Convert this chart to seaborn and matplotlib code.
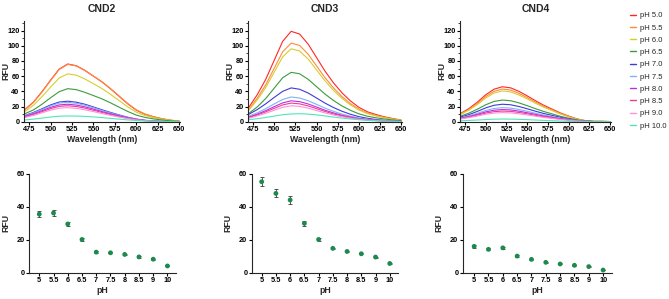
import numpy as np
import pandas as pd
import matplotlib
matplotlib.use("Agg")
import matplotlib.pyplot as plt
from matplotlib.lines import Line2D
import seaborn as sns

## data
wavelengths = [470, 480, 490, 500, 510, 520, 530, 540, 550, 560,
               570, 580, 590, 600, 610, 620, 630, 640, 650]
ph_names = ['pH 5.0', 'pH 5.5', 'pH 6.0', 'pH 6.5', 'pH 7.0',
            'pH 7.5', 'pH 8.0', 'pH 8.5', 'pH 9.0', 'pH 10.0']
ph_colors = ['#ff2626', '#ff8a3d', '#d6ce2e', '#3c9c3c', '#3c3cd8',
             '#7eb2f6', '#b82ee6', '#f23c8e', '#ff8fe0', '#4fe6bb']

cnd2_spectra = [
    [16, 25.8, 39.5, 54.7, 69.2, 76, 73.7, 67.6, 60, 52.4, 43.3, 33.4, 23.6, 15.2, 9.9, 6.5, 3.8, 1.9, 0.8],
    [15.5, 25.3, 39, 54.2, 68.7, 75.5, 73.4, 67.4, 60, 52.4, 43.5, 33.8, 24, 15.6, 10.2, 6.6, 4, 2, 0.8],
    [13.5, 21.5, 33, 45.5, 57.5, 63, 61.3, 56.3, 50, 43.6, 36, 27.8, 19.5, 12.6, 8.2, 5.4, 3.2, 1.6, 0.6],
    [10.5, 15.5, 23, 31.5, 39.5, 43.5, 42.2, 38.7, 34.4, 30, 24.8, 19.1, 13.5, 8.7, 5.7, 3.7, 2.2, 1.1, 0.4],
    [8.1, 12.2, 17, 22.1, 25.9, 27, 25.7, 23, 19.4, 15.7, 12.2, 8.9, 5.9, 3.5, 1.9, 0.9, 0.4, 0.1, 0],
    [7.7, 11.5, 16.1, 20.9, 24.5, 25.5, 24.2, 21.7, 18.4, 14.8, 11.5, 8.4, 5.6, 3.3, 1.8, 0.9, 0.4, 0.1, 0],
    [6.9, 10.4, 14.5, 18.9, 22.1, 23, 21.9, 19.6, 16.6, 13.3, 10.4, 7.6, 5.1, 3.0, 1.6, 0.8, 0.3, 0.1, 0],
    [6.3, 9.5, 13.2, 17.2, 20.2, 21, 20, 17.9, 15.1, 12.2, 9.5, 6.9, 4.6, 2.7, 1.5, 0.7, 0.3, 0.1, 0],
    [5.6, 8.3, 11.7, 15.2, 17.8, 18.5, 17.6, 15.7, 13.3, 10.7, 8.3, 6.1, 4.1, 2.4, 1.3, 0.6, 0.3, 0.1, 0],
    [2.3, 3.4, 4.7, 6.2, 7.2, 7.5, 7.4, 7.0, 6.3, 5.4, 4.4, 3.4, 2.4, 1.6, 1.0, 0.5, 0.2, 0.1, 0],
]
cnd3_spectra = [
    [19, 35.7, 55.9, 80.9, 105.9, 119, 115.4, 102.3, 84.5, 66.6, 51.2, 38.1, 27.4, 19, 13.1, 9.5, 6.5, 4.2, 2.1],
    [16.6, 31, 48.6, 70.4, 92.1, 103.5, 100.4, 89, 73.5, 58, 44.5, 33.1, 23.8, 16.6, 11.4, 8.3, 5.7, 3.6, 1.9],
    [15.4, 28.8, 45.1, 65.3, 85.4, 96, 93.1, 82.6, 68.2, 53.8, 41.3, 30.7, 22.1, 15.4, 10.6, 7.7, 5.3, 3.4, 1.7],
    [11, 19.5, 30.6, 44.2, 57.9, 65, 63.1, 55.9, 46.2, 36.4, 28, 20.8, 15, 10.4, 7.2, 5.2, 3.6, 2.3, 1.2],
    [9.8, 16, 23.6, 32, 40, 44.5, 42.7, 37.8, 31.2, 24.5, 18.7, 13.8, 9.8, 6.7, 4.5, 2.9, 1.8, 1, 0.4],
    [7.2, 11.7, 17.2, 23.4, 29.3, 32.5, 31.2, 27.6, 22.8, 17.9, 13.7, 10.1, 7.2, 4.9, 3.3, 2.1, 1.3, 0.7, 0.3],
    [6.1, 9.9, 14.6, 19.8, 24.8, 27.5, 26.4, 23.4, 19.3, 15.1, 11.6, 8.5, 6.1, 4.1, 2.8, 1.8, 1.1, 0.6, 0.3],
    [5.4, 8.8, 13, 17.6, 22.1, 24.5, 23.5, 20.8, 17.2, 13.5, 10.3, 7.6, 5.4, 3.7, 2.5, 1.6, 1, 0.5, 0.2],
    [4.6, 7.6, 11.1, 15.1, 18.9, 21, 20.2, 17.9, 14.7, 11.6, 8.8, 6.5, 4.6, 3.2, 2.1, 1.4, 0.8, 0.5, 0.2],
    [2.6, 4, 5.6, 7.4, 9.2, 10.2, 10.5, 10, 9, 7.6, 6.1, 4.8, 3.6, 2.6, 1.8, 1.2, 0.8, 0.4, 0.2],
]
cnd4_spectra = [
    [11, 17.5, 25.8, 35.4, 42.8, 46, 44.6, 40, 34, 27.6, 21.6, 16.6, 11.5, 7.4, 3.7, 1.4, 0.5, 0.5, 0.2],
    [10.3, 16.3, 24.1, 33.1, 40, 43, 41.7, 37.4, 31.8, 25.8, 20.2, 15.5, 10.8, 6.9, 3.4, 1.3, 0.4, 0.4, 0.2],
    [9.7, 15.4, 22.7, 31.2, 37.7, 40.5, 39.3, 35.2, 30, 24.3, 19, 14.6, 10.1, 6.5, 3.2, 1.2, 0.4, 0.4, 0.2],
    [7.4, 11.4, 16.5, 22.3, 26.7, 28.5, 27.6, 24.8, 21.1, 17.1, 13.4, 10.3, 7.1, 4.6, 2.3, 0.9, 0.3, 0.3, 0.1],
    [6.2, 9.4, 13.6, 18.2, 21.6, 23, 22.3, 20, 17, 13.8, 10.8, 8.3, 5.8, 3.7, 1.8, 0.7, 0.2, 0.2, 0.1],
    [5.2, 7.8, 11.1, 14.8, 17.4, 18.5, 17.9, 16.1, 13.7, 11.1, 8.7, 6.7, 4.6, 3, 1.5, 0.6, 0.2, 0.2, 0.1],
    [4.6, 6.9, 9.7, 12.9, 15.1, 16, 15.5, 13.9, 11.8, 9.6, 7.5, 5.8, 4, 2.6, 1.3, 0.5, 0.2, 0.2, 0.1],
    [4.2, 6.2, 8.6, 11.4, 13.2, 14, 13.6, 12.2, 10.4, 8.4, 6.6, 5, 3.5, 2.2, 1.1, 0.4, 0.1, 0.1, 0],
    [3.7, 5.4, 7.5, 9.8, 11.4, 12, 11.6, 10.4, 8.9, 7.2, 5.6, 4.3, 3, 1.9, 1, 0.4, 0.1, 0.1, 0],
    [1.2, 1.7, 2.2, 2.8, 3.3, 3.5, 3.4, 3.1, 2.7, 2.2, 1.7, 1.3, 0.9, 0.6, 0.3, 0.1, 0, 0, 0],
]

ph_ticks = ['5', '5.5', '6', '6.5', '7', '7.5', '8', '8.5', '9', '10']
cnd2_mean = [35.6, 36.3, 29.6, 20.2, 12.5, 12.1, 11.1, 9.6, 8.2, 4.1]
cnd2_err = [1.7, 1.7, 1.4, 0.9, 0.5, 0.4, 0.4, 0.4, 0.3, 0.3]
cnd3_mean = [55.3, 48.2, 44.2, 30.0, 20.2, 14.8, 12.9, 11.5, 9.5, 5.6]
cnd3_err = [2.8, 2.4, 2.3, 1.7, 0.8, 0.5, 0.4, 0.4, 0.3, 0.3]
cnd4_mean = [16.0, 14.2, 15.1, 10.1, 8.1, 6.3, 5.3, 4.5, 3.7, 1.6]
cnd4_err = [0.8, 0.6, 0.6, 0.5, 0.4, 0.3, 0.3, 0.3, 0.3, 0.2]

W, H = 669, 299
sns.set_theme(style='ticks')
plt.rcParams['font.family'] = ['Liberation Sans', 'DejaVu Sans']
plt.rcParams['axes.linewidth'] = 0.8
plt.rcParams['xtick.major.width'] = 0.8
plt.rcParams['ytick.major.width'] = 0.8
plt.rcParams['ytick.minor.width'] = 0.6

fig = plt.figure(figsize=(W / 100, H / 100), dpi=100)


def px_axes(left, right, top, bottom):
    return fig.add_axes([left / W, 1 - bottom / H, (right - left) / W, (bottom - top) / H])


def style_axes(ax):
    sns.despine(ax=ax)
    ax.tick_params(axis='both', direction='out', length=2.4, pad=0.8, labelsize=5.3,
                   colors='black')
    for lab in ax.get_xticklabels() + ax.get_yticklabels():
        lab.set_fontweight('bold')


## top row: emission spectra
spec_rows = []
for cnd, spectra in [('CND2', cnd2_spectra), ('CND3', cnd3_spectra), ('CND4', cnd4_spectra)]:
    for name, vals in zip(ph_names, spectra):
        for wl, v in zip(wavelengths, vals):
            spec_rows.append({'cnd': cnd, 'pH': name, 'wavelength': wl, 'RFU': v})
spec_df = pd.DataFrame(spec_rows)

top_boxes = {'CND2': (24, 180), 'CND3': (248, 402), 'CND4': (460, 611)}
for cnd, (l, r) in top_boxes.items():
    ax = px_axes(l, r, 20.7, 121.7)
    sns.lineplot(data=spec_df[spec_df['cnd'] == cnd], x='wavelength', y='RFU',
                 hue='pH', hue_order=ph_names, palette=ph_colors,
                 linewidth=0.8, legend=False, ax=ax)
    ax.set_xlim(469, 651)
    ax.set_ylim(0, 133)
    ax.set_xticks(range(475, 651, 25))
    ax.set_yticks(range(0, 121, 20))
    ax.set_yticks(range(10, 131, 20), minor=True)
    ax.tick_params(axis='y', which='minor', length=1.3)
    style_axes(ax)
    ax.set_xlabel('Wavelength (nm)', fontsize=6.3, fontweight='bold', labelpad=1)
    ax.set_ylabel('RFU', fontsize=6.3, fontweight='bold')
    ax.yaxis.set_label_coords(-14 / (r - l), 0.5)
    ax.set_title(cnd, fontsize=7.5, fontweight='bold', pad=6)

handles = [Line2D([], [], color=c, lw=1.0) for c in ph_colors]
fig.legend(handles, ph_names, loc='upper left', bbox_to_anchor=(627 / W, 1 - 9 / H),
           frameon=False, fontsize=5.5, handlelength=0.8, handletextpad=0.5,
           labelspacing=0.64, borderaxespad=0)

## bottom row: RFU vs pH
green = '#1c8a4c'
bottom_boxes = [('CND2', cnd2_mean, cnd2_err, 29.3, 176),
                ('CND3', cnd3_mean, cnd3_err, 251.7, 398.3),
                ('CND4', cnd4_mean, cnd4_err, 462.7, 611.7)]
for cnd, means, errs, l, r in bottom_boxes:
    ax = px_axes(l, r, 174, 272.7)
    pos = np.arange(len(ph_ticks))
    ax.errorbar(pos, means, yerr=errs, fmt='none', ecolor='#3a3a3a',
                elinewidth=0.6, capsize=1.6, capthick=0.6, zorder=2)
    sns.scatterplot(x=pos, y=means, color=green, s=12, marker='o',
                    edgecolor='none', ax=ax, zorder=3)
    ax.set_xlim(-0.7 if cnd != 'CND4' else -0.8, 9.6)
    ax.set_ylim(0, 60)
    ax.set_xticks(pos)
    ax.set_xticklabels(ph_ticks)
    ax.set_yticks([0, 20, 40, 60])
    style_axes(ax)
    ax.set_xlabel('pH', fontsize=6.3, fontweight='bold', labelpad=1)
    ax.set_ylabel('RFU', fontsize=6.3, fontweight='bold')
    ax.yaxis.set_label_coords(-19 / (r - l), 0.5)

fig.savefig('out.png', dpi=100)
